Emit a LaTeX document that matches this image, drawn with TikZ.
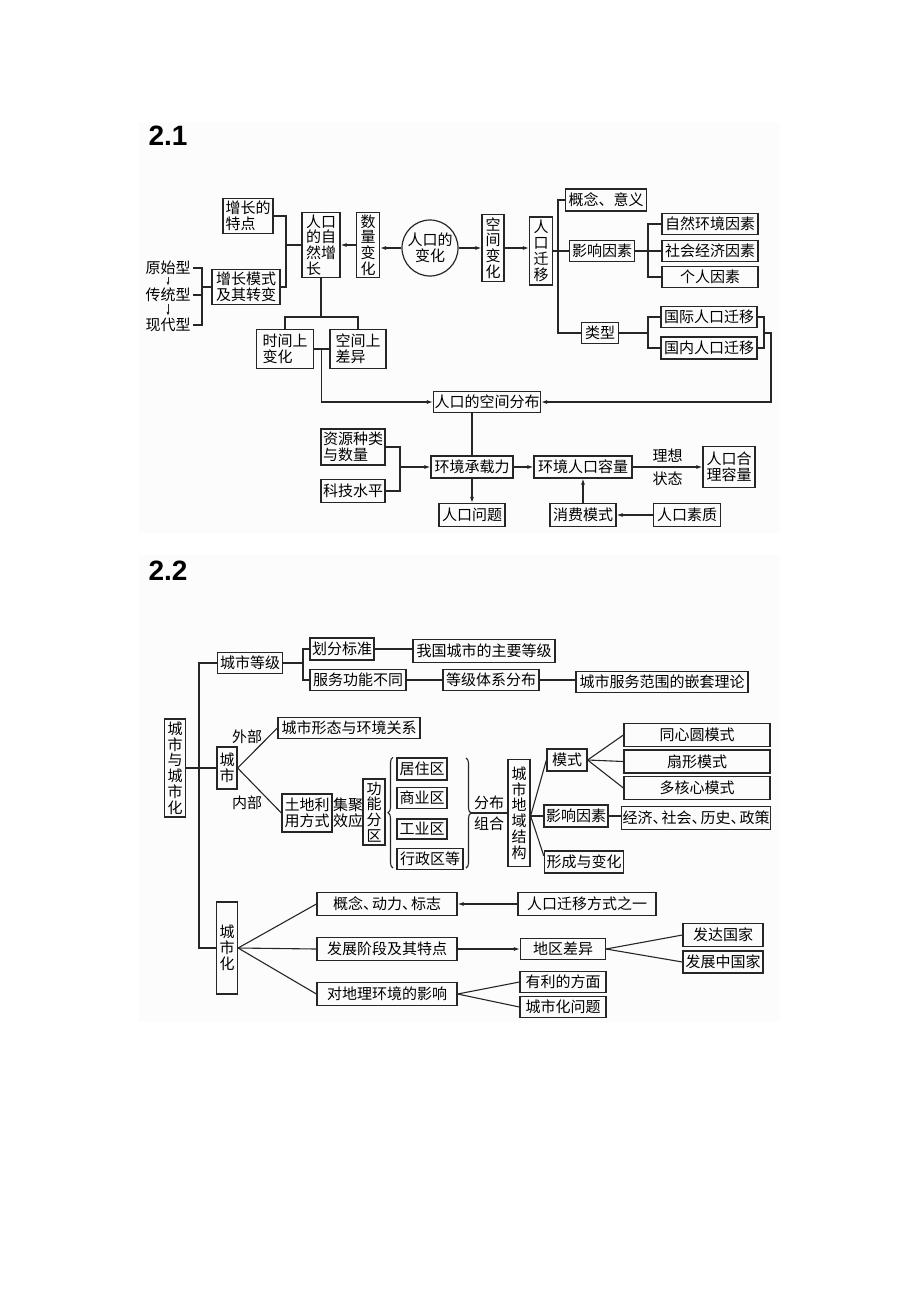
\documentclass[tikz,border=0pt]{standalone}
\usepackage{fontspec}
\newfontfamily\cjk{Noto Sans CJK SC}
\newfontfamily\titlefont{Liberation Sans}
\usetikzlibrary{arrows.meta,calc,decorations.pathreplacing}
\newcommand\mapfont{\cjk\fontsize{15}{15.8}\selectfont}
\newcommand\dunhao{、\kern-0.4em}

\begin{document}
\begin{tikzpicture}[x=1pt,y=-1pt,
    box/.style 2 args={draw=black!85, line width=1.2pt, inner sep=1pt, align=center, font=\mapfont, minimum width=#1, minimum height=#2},
    lbl/.style={inner sep=2pt, align=center, font=\mapfont},
    link/.style={draw=black!85, line width=1.1pt},
    arr/.style={link, -{Latex[length=6pt,width=4pt]}},
    tiny/.style={link, line width=0.8pt, -{Latex[length=4pt,width=3pt]}},
    brace/.style={link, decorate, decoration={brace, amplitude=5pt}},
    title/.style={font=\titlefont\bfseries\fontsize{28}{30}\selectfont, inner sep=0pt}]
        \useasboundingbox (0,0) rectangle (920,1302);

        % panels
        \fill[black!1] (139,122) rectangle (780,533);
        \fill[black!1] (139,555) rectangle (780,1022);

        % ---------- 2.1 ----------
        \node[title] (t1) at (168,136) {2.1};

        \node[box={50}{35}, align=left] (zz) at (248,216) {增长的\\特点};
        \node[box={68}{35}, align=left] (ms) at (246,287) {增长模式\\及其转变};
        \node[lbl] (ysx) at (168,268) {原始型};
        \node[lbl] (ctx) at (168,295) {传统型};
        \node[lbl] (xdx) at (168,325) {现代型};
        \node[box={38}{65}, align=left] (zr) at (321,245) {人口\\的自\\然增\\长};
        \node[box={23}{65}] (sl) at (368,245) {数\\量\\变\\化};
        \node[draw=black!85, line width=1.2pt, circle, minimum size=56, inner sep=0pt, align=center, font=\mapfont] (bh) at (430,248) {人口的\\变化};
        \node[box={22}{67}] (kj) at (493,248) {空\\间\\变\\化};
        \node[box={23}{68}] (qy) at (541,251) {人\\口\\迁\\移};

        % migration branches
        \node[box={81}{22}] (gn) at (606,200) {概念、意义};
        \node[box={65}{21}] (ys) at (602,251) {影响因素};
        \node[box={96}{21}] (zh) at (710,224) {自然环境因素};
        \node[box={96}{21}] (sj) at (710,251) {社会经济因素};
        \node[box={96}{21}] (gr) at (710,277) {个人因素};
        \node[box={37}{21}] (lx) at (600,333) {类型};
        \node[box={96}{21}] (gj) at (709,317) {国际人口迁移};
        \node[box={96}{22}] (gnn) at (709,348) {国内人口迁移};

        \node[box={57}{39}, align=left] (sjs) at (285,349) {时间上\\变化};
        \node[box={56}{39}, align=left] (kjc) at (358,349) {空间上\\差异};
        \node[box={106}{21}] (fb) at (487,402) {人口的空间分布};

        % carrying capacity
        \node[box={64}{36}, align=left] (zy) at (353,447) {资源种类\\与数量};
        \node[box={64}{23}] (kjs) at (353,491) {科技水平};
        \node[box={82}{22}] (hc) at (472,467) {环境承载力};
        \node[box={98}{22}] (hr) at (583,467) {环境人口容量};
        \node[box={52}{41}, align=left] (hl) at (729,467) {人口合\\理容量};
        \node[box={66}{23}] (wt) at (472,515) {人口问题};
        \node[box={66}{23}] (xf) at (583,515) {消费模式};
        \node[box={67}{23}] (sz) at (687,515) {人口素质};

        \coordinate (j1) at (286,245);
        \coordinate (j2) at (202,287);
        \coordinate (j3) at (321,317);
        \coordinate (j5) at (558,251);
        \coordinate (j6) at (648,251);
        \coordinate (j7) at (648,333);
        \coordinate (j8) at (764,333);
        \coordinate (j10) at (400,467);

        \draw[link] (zz.east) -| (j1) |- (ms.east);
        \draw[link] (j1) -- (zr.west);
        \draw[link] (ysx.east) -| (j2) |- (xdx.east);
        \draw[link] (ctx.east) -- (ctx.east -| j2);
        \draw[link] (j2) -- (ms.west);
        \draw[tiny] (ysx.south) -- (ctx.north);
        \draw[tiny] (ctx.south) -- (xdx.north);

        \draw[arr] (sl.west) -- (zr.east);
        \draw[arr] (bh.west) -- (bh.west -| sl.east);
        \draw[arr] (bh.east) -- (bh.east -| kj.west);
        \draw[arr] (kj.east) -- (kj.east -| qy.west);

        \draw[link] (qy.east) -- (ys.west);
        \draw[link] (gn.west) -| (j5) |- (lx.west);
        \draw[link] (ys.east) -- (sj.west);
        \draw[link] (zh.west) -| (j6) |- (gr.west);
        \draw[link] (lx.east) -- (j7);
        \draw[link] (gj.west) -| (j7) |- (gnn.west);
        \draw[link] (gj.east) -| (j8) |- (gnn.east);
        \draw[arr] (j8) -- ++(7,0) |- (fb.east);

        \draw[link] (zr.south) -- (j3);
        \draw[link] (sjs.north) |- (j3) -| (kjc.north);
        \draw[link] (sjs.east) -- (kjc.west);
        \draw[arr] ($(sjs.east)!0.5!(kjc.west)$) |- (fb.west);

        \draw[link] (fb.south -| hc.north) -- (hc.north);
        \draw[link] (zy.east) -| (j10) |- (kjs.east);
        \draw[arr] (j10) -- (hc.west);
        \draw[arr] (hc.east) -- (hr.west);
        \draw[arr] (hr.east) -- node[lbl, above=2pt] (lxz) {理想} node[lbl, below=2pt] (ztz) {状态} (hl.west);
        \draw[arr] (hc.south) -- (wt.north);
        \draw[arr] (sz.west) -- (xf.east);
        \draw[arr] (xf.north) -- (hr.south);

        % ---------- 2.2 ----------
        \node[title] (t2) at (168,571) {2.2};

        \node[box={21}{98}] (ccs) at (175,768) {城\\市\\与\\城\\市\\化};
        \node[box={65}{21}] (dj) at (250,663) {城市等级};
        \node[box={64}{22}] (hf) at (342,649) {划分标准};
        \node[box={96}{21}] (fw) at (358,680) {服务功能不同};
        \node[box={142}{23}] (wg) at (484,651) {我国城市的主要等级};
        \node[box={96}{21}] (tx) at (491,680) {等级体系分布};
        \node[box={172}{21}] (qt) at (662,682) {城市服务范围的嵌套理论};

        % city structure
        \node[box={20}{42}] (cs) at (227,768) {城\\市};
        \node[lbl] (wb) at (247,737) {外部};
        \node[lbl] (nb) at (247,803) {内部};
        \node[box={142}{21}] (xt) at (349,728) {城市形态与环境关系};
        \node[box={50}{38}, align=left] (td) at (307,813) {土地利\\用方式};
        \node[lbl, inner sep=0pt] (jj) at (348,813) {集聚\\效应};
        \node[box={22}{66}] (gnq) at (374,812) {功\\能\\分\\区};
        \node[box={50}{22}] (jz) at (422,769) {居住区};
        \node[box={50}{21}] (sy) at (422,798) {商业区};
        \node[box={50}{20}] (gy) at (422,829) {工业区};
        \node[box={66}{21}] (xz) at (430,859) {行政区等};
        \node[box={22}{107}] (dy) at (519,813) {城\\市\\地\\域\\结\\构};
        \node[box={40}{22}] (msb) at (567,760) {模式};
        \node[box={146}{23}] (txy) at (697,735) {同心圆模式};
        \node[box={146}{23}] (sx) at (697,761.5) {扇形模式};
        \node[box={146}{23}] (dh) at (697,788) {多核心模式};
        \node[box={64}{22}] (ysb) at (576,816) {影响因素};
        \node[box={148}{23}] (jjs) at (696,818) {经济\dunhao 社会\dunhao 历史\dunhao 政策};
        \node[box={79}{22}] (xcb) at (584,862) {形成与变化};

        % urbanisation
        \node[box={21}{92}] (chh) at (227,948) {城\\市\\化};
        \node[box={140}{23}] (gd) at (387,904) {概念\dunhao 动力\dunhao 标志};
        \node[box={140}{23}] (fz) at (387,949) {发展阶段及其特点};
        \node[box={140}{23}] (dl) at (387,994) {对地理环境的影响};
        \node[box={138}{23}] (rq) at (587,904) {人口迁移方式之一};
        \node[box={85}{21}] (dq) at (563,949) {地区差异};
        \node[box={80}{23}] (fd) at (723,935) {发达国家};
        \node[box={80}{22}] (fzz) at (723,962) {发展中国家};
        \node[box={86}{21}] (yl) at (563,982) {有利的方面};
        \node[box={86}{21}] (wtc) at (563,1007) {城市化问题};

        \coordinate (j13) at (199,948);
        \coordinate (j14) at (303,663);
        \coordinate (brl) at (393,868);
        \coordinate (brr) at (466,758);
        \coordinate (brt) at (471,813);

        \draw[link] (ccs.east) -- (cs.west);
        \draw[link] (dj.west) -| (j13) -- (chh.west);
        \draw[link] (dj.east) -- (j14);
        \draw[link] (hf.west) -| (j14) |- (fw.west);
        \draw[link] (hf.east) -- (hf.east -| wg.west);
        \draw[link] (fw.east) -- (tx.west);
        \draw[link] (tx.east) -- (tx.east -| qt.west);

        \draw[link] (cs.east) -- (xt.west);
        \draw[link] (cs.east) -- (td.west);
        \draw[brace] (brl) -- (brl |- jz.north);
        \draw[brace] (brr) -- (brr |- brl);
        \draw[link] (brt) -- node[lbl, above=1pt] (fbt) {分布} node[lbl, below=1pt] (zht) {组合} (brt -| dy.west);

        \coordinate (j11) at (ysb.west -| dy.east);
        \draw[link] (j11) -- (msb.west);
        \draw[link] (j11) -- (ysb.west);
        \draw[link] (j11) -- ([yshift=6pt]xcb.west);
        \draw[link] (msb.east) -- (txy.west);
        \draw[link] (msb.east) -- (sx.west);
        \draw[link] (msb.east) -- (dh.west);
        \draw[link] (ysb.east) -- (ysb.east -| jjs.west);

        \draw[link] (chh.east) -- (gd.west);
        \draw[link] (chh.east) -- (fz.west);
        \draw[link] (chh.east) -- (dl.west);
        \draw[arr] (rq.west) -- (gd.east);
        \draw[arr] (fz.east) -- (dq.west);
        \draw[link] (dq.east) -- (fd.west);
        \draw[link] (dq.east) -- (fzz.west);
        \draw[link] (dl.east) -- (yl.west);
        \draw[link] (dl.east) -- (wtc.west);

    \end{tikzpicture}
\end{document}
